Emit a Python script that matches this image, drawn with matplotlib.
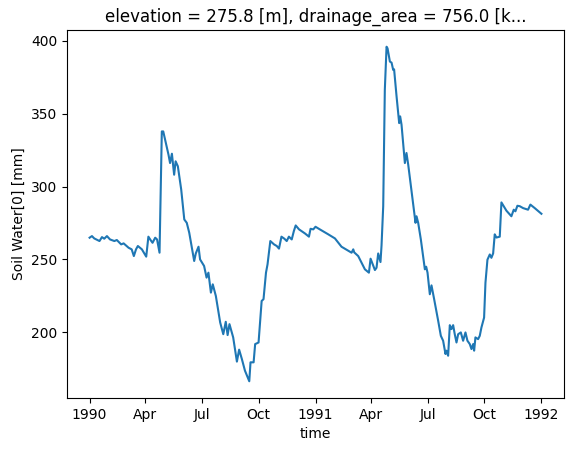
import numpy as np
import pandas as pd
import matplotlib
matplotlib.use("Agg")
import matplotlib.pyplot as plt
import matplotlib.dates as mdates

# day offsets from 1990-01-01 and soil water values
days = [0, 3.8, 7.5, 16, 20, 23.7, 28, 33, 40, 44, 51, 55, 63, 68, 71.5, 75, 78,
        84.5, 91.5, 95, 98.5, 101.7, 106, 109, 113, 116.7, 119, 127.5, 130, 133,
        136.6, 139, 142.6, 148, 153, 157, 161, 169, 171.6, 176, 178.5, 185, 189,
        192, 196, 199, 204, 211, 216, 220, 223, 226, 232, 238, 241.6, 246, 251,
        258, 260, 265, 267.5, 273, 275.7, 278, 281, 285, 287.5, 292, 298, 302.4,
        306, 310, 314.7, 318.5, 322, 326.6, 330, 333, 338.4, 348, 354.4, 357,
        361.4, 365, 372, 385.6, 396.4, 407, 423.3, 426, 427.6, 434, 444.8, 451.3,
        454, 461, 463.6, 466.3, 470, 471.7, 474.4, 477, 479.8, 481.4, 485.2,
        487.9, 490.5, 492, 496, 500.2, 501.8, 504, 509.4, 512, 514.8, 521.2,
        526.6, 528.2, 530.9, 535.2, 541.7, 543.8, 546, 549.7, 552.4, 556.7,
        563.2, 567.5, 571.2, 575, 576.6, 579.3, 582, 584.7, 587.4, 590, 592.8,
        595.5, 599.8, 603.5, 607.3, 610.5, 614.3, 617, 619.7, 621.3, 623.4,
        627.7, 630.4, 633.1, 637.4, 639.6, 642.8, 646.6, 649.2, 652, 654.6,
        657.3, 662.7, 665.4, 673.5, 681.5, 685.3, 688, 691.2, 695, 700.4, 708.4,
        712.2, 719.2, 730]
soil_water = [264.9, 266.0, 264.4, 262.6, 265.3, 264.2, 266.0, 263.7, 262.6, 263.3,
              260.3, 261.0, 258.0, 256.9, 252.3, 256.9, 259.2, 256.9, 251.9, 265.6,
              263.3, 261.4, 264.9, 263.7, 254.6, 337.8, 337.8, 321.8, 316.1, 322.5,
              308.1, 317.3, 313.9, 298.0, 277.4, 275.1, 268.3, 248.9, 254.1, 258.7,
              250.0, 245.5, 237.5, 240.9, 227.2, 232.9, 224.9, 206.7, 198.7, 207.2,
              198.1, 205.6, 196.5, 179.9, 188.1, 181.7, 173.7, 166.4, 179.4, 179.4,
              191.9, 193.0, 208.5, 221.5, 222.7, 240.9, 246.6, 262.6, 260.3, 259.2,
              257.4, 265.6, 264.2, 262.6, 265.6, 263.7, 269.4, 273.3, 270.6, 267.8,
              265.6, 271.0, 270.6, 272.4, 270.6, 267.2, 264.4, 258.7, 254.6, 256.9,
              254.8, 252.3, 243.2, 240.9, 250.5, 242.7, 244.3, 254.1, 248.2, 259.6,
              286.5, 366.3, 395.9, 394.8, 385.7, 385.0, 380.0, 380.4, 361.7, 343.5,
              348.1, 342.4, 316.1, 323.0, 315.0, 293.3, 275.1, 279.6, 275.1, 263.7,
              243.2, 245.0, 240.9, 226.1, 232.2, 222.7, 207.9, 197.6, 194.2, 185.1,
              187.4, 183.9, 204.9, 202.2, 204.9, 198.7, 193.0, 198.7, 199.9, 194.2,
              199.9, 194.2, 191.9, 188.5, 191.9, 187.4, 196.5, 195.3, 197.6, 203.3,
              210.1, 234.0, 249.8, 253.4, 251.1, 254.1, 267.2, 265.0, 265.6, 289.1,
              283.4, 279.6, 284.1, 283.0, 286.8, 286.5, 285.2, 284.1, 287.6, 285.2,
              281.3]

title = "elevation = 275.8 [m], drainage_area = 756.0 [k..."

start = pd.Timestamp("1990-01-01")
time = start + pd.to_timedelta(np.array(days), unit="D")

fig = plt.figure(figsize=(5.71, 4.53), dpi=100)
ax = fig.add_axes([67 / 571, 55 / 453, 497 / 571, 368 / 453])
ax.plot(time, soil_water, color="#1f77b4", lw=1.5)

ax.xaxis.set_major_locator(mdates.MonthLocator(bymonth=[1, 4, 7, 10]))


def fmt(x, pos=None):
    d = mdates.num2date(x)
    return str(d.year) if d.month == 1 else d.strftime("%b")


ax.xaxis.set_major_formatter(plt.FuncFormatter(fmt))
ax.set_xlabel("time")
ax.set_ylabel("Soil Water[0] [mm]")
ax.set_title(title)

fig.savefig("out.png", dpi=100)
